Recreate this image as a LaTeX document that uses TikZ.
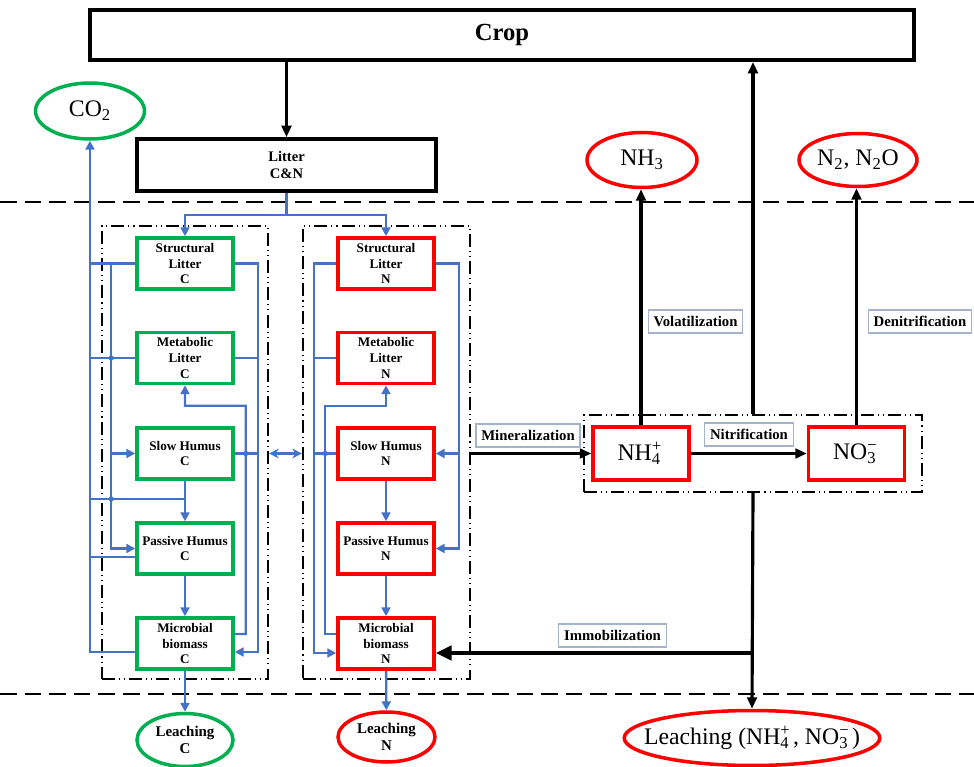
\documentclass[tikz,border=0pt]{standalone}
\usepackage{fontspec}
\setmainfont{Liberation Serif}
\usetikzlibrary{shapes.geometric,arrows.meta,calc}
\definecolor{cblue}{RGB}{68,114,196}
\definecolor{cgreen}{RGB}{0,176,80}
\definecolor{cred}{RGB}{255,0,0}
\definecolor{tagline}{RGB}{165,178,204}
\newcommand\chemion[3]{#1\rlap{\textsuperscript{#3}}\textsubscript{#2}\hspace{0.15em}}
\tikzset{
	poolbox/.style={draw,line width=1.2pt,dash pattern=on 7.4pt off 2.3pt on 0.6pt off 2.3pt on 0.6pt off 2.3pt},
	cbox/.style={draw=cgreen,line width=2pt,minimum width=1.92cm,minimum height=1.02cm,inner sep=0pt,align=center,font=\fontsize{7.5}{9}\selectfont\bfseries},
	nbox/.style={cbox,draw=cred},
	gas/.style={ellipse,draw,line width=2pt,inner sep=0pt,font=\fontsize{13.5}{15}\selectfont},
	tag/.style={draw=tagline,line width=0.6pt,fill=white,inner xsep=3pt,inner ysep=0pt,minimum height=0.46cm,font=\fontsize{8.4}{10}\selectfont\bfseries},
	flow/.style={cblue,line width=1.35pt},
	flowto/.style={flow,-{Triangle[length=5pt,width=5pt]}},
	feed/.style={line width=1.8pt,-{Triangle[length=6.5pt,width=5.5pt]}},
	soil/.style={line width=1.5pt,dash pattern=on 9.5pt off 4.5pt}
}
\begin{document}
\begin{tikzpicture}[x=0.02cm,y=-0.02cm]
	\useasboundingbox (0,0) rectangle (974,767);

	\draw[soil] (0,202) -- (974,202);
	\draw[soil] (0,694) -- (974,694);

	\node[poolbox,minimum width=3.32cm,minimum height=9.06cm] (cpool) at (185,452.5) {};
	\node[poolbox,minimum width=3.34cm,minimum height=9.06cm] (npool) at (386.5,452.5) {};
	\node[poolbox,minimum width=6.76cm,minimum height=1.54cm] (inorg) at (753,453.5) {};

	\node[draw,line width=2.2pt,minimum width=16.5cm,minimum height=1cm,font=\fontsize{14}{16}\selectfont\bfseries] (crop) at (502,35) {Crop};
	\node[draw,line width=2.1pt,minimum width=5.98cm,minimum height=1.04cm,align=center,font=\fontsize{8.3}{9.6}\selectfont\bfseries] (litter) at (286.5,165) {Litter\\C\&N};

	\node[gas,draw=cgreen,minimum width=2.18cm,minimum height=1.12cm] (co2) at (90,111) {CO\textsubscript{2}};
	\node[gas,draw=cred,minimum width=2.2cm,minimum height=1.1cm] (nhthree) at (642,160) {NH\textsubscript{3}};
	\node[gas,draw=cred,minimum width=2.36cm,minimum height=1.06cm] (ntwo) at (858,160) {N\textsubscript{2}, N\textsubscript{2}O};

	\node[cbox] (slc) at (185,263.5) {Structural\\Litter\\C};
	\node[cbox] (mlc) at (185,358) {Metabolic\\Litter\\C};
	\node[cbox] (shc) at (185,453.5) {Slow Humus\\C};
	\node[cbox] (phc) at (185,548.5) {Passive Humus\\C};
	\node[cbox] (mbc) at (185,643.5) {Microbial\\biomass\\C};

	\node[nbox] (sln) at (386,263.5) {Structural\\Litter\\N};
	\node[nbox] (mln) at (386,358) {Metabolic\\Litter\\N};
	\node[nbox] (shn) at (386,453.5) {Slow Humus\\N};
	\node[nbox] (phn) at (386,548.5) {Passive Humus\\N};
	\node[nbox] (mbn) at (386,643.5) {Microbial\\biomass\\N};

	\node[gas,draw=cgreen,minimum width=1.92cm,minimum height=1.06cm,align=center,font=\fontsize{8.5}{10}\selectfont\bfseries] (lc) at (185,740) {Leaching\\C};
	\node[gas,draw=cred,minimum width=1.94cm,minimum height=1cm,align=center,font=\fontsize{8.5}{10}\selectfont\bfseries] (ln) at (386.5,737) {Leaching\\N};

	\node[nbox,minimum height=1.06cm,font=\fontsize{13.5}{15}\selectfont] (nhfour) at (641,453.5) {\chemion{NH}{4}{+}};
	\node[nbox,minimum height=1.06cm,font=\fontsize{13.5}{15}\selectfont] (nothree) at (856.5,453.5) {\chemion{NO}{3}{−}};
	\node[gas,draw=cred,inner xsep=-10pt,minimum height=1.1cm] (leach) at (752,738) {Leaching (\chemion{NH}{4}{+}, \chemion{NO}{3}{−})};

	\draw[feed] (crop.south -| litter.north) -- (litter.north);
	\draw[feed] (inorg.north) -- (inorg.north |- crop.south);
	\draw[feed] (nhfour.north) -- (nhfour.north |- nhthree.south);
	\draw[feed] (nothree.north) -- (nothree.north |- ntwo.south);
	\draw[feed] (npool.east |- nhfour.west) -- (nhfour.west);
	\draw[feed] (nhfour) -- (nothree);
	\draw[feed] (inorg.south) -- (leach.north);
	\coordinate (imm) at ($(inorg.south |- mbn.east)+(0,9.5)$);
	\draw[line width=2.4pt,-{Triangle[length=9pt,width=8pt]}] (imm) -- (imm -| mbn.east);

	\draw[flowto] (litter.south) -- ++(0,22) coordinate (split) -| (slc.north);
	\draw[flowto] (split) -| (sln.north);

	\coordinate (ca) at ($(mbc.west)+(0,8.5)$);
	\coordinate (cb) at ($(phc.west)+(0,8.5)$);
	\coordinate (cc) at ($(shc.south)!0.45!(phc.north)$);
	\coordinate (cd) at ($(slc.west)+(-24,0)$);
	\coordinate (ce) at ($(slc.east)+(23,0)$);
	\coordinate (cf) at ($(mbc.east)+(0,8.5)$);
	\coordinate (cg) at ($(mbc.east)+(0,-9.5)$);
	\coordinate (ci) at ($(cg)+(11,0)$);
	\coordinate (ch) at ($(mlc.south)!0.5!(shc.north)$);
	\draw[flowto] (ca) -| (co2.south);
	\draw[flow] (slc.west) -- (slc.west -| co2.south);
	\draw[flow] (mlc.west) -- (mlc.west -| co2.south);
	\draw[flow] (cb) -- (cb -| co2.south);
	\draw[flow] (cc -| co2.south) -- (cc);
	\draw[flowto] (cd) |- (shc.west);
	\draw[flowto] (cd) |- (phc.west);
	\draw[flowto] (slc.east) -- (ce) |- (cf);
	\draw[flow] (mlc.east) -- (mlc.east -| ce);
	\draw[flow] (shc.east) -- (shc.east -| ce);
	\draw[flowto] (cg) -- (ci) |- (ch) -- (mlc.south);
	\draw[flowto] (shc) -- (phc);
	\draw[flowto] (phc) -- (mbc);
	\draw[flowto] (mbc) -- (lc);
	\fill[cblue] (cd |- mlc.west) circle (1.5pt);
	\fill[cblue] (cd |- cc) circle (1.5pt);
	\fill[cblue] (ci |- shc.east) circle (1.5pt);

	\coordinate (na) at ($(sln.west)+(-22,0)$);
	\coordinate (nb) at ($(mbn.west)+(0,9.5)$);
	\coordinate (nc) at ($(mbn.west)+(0,-9.5)$);
	\coordinate (nd) at ($(nc)+(-11,0)$);
	\coordinate (ne) at ($(mln.south)!0.5!(shn.north)$);
	\coordinate (nf) at ($(sln.east)+(23,0)$);
	\draw[flowto] (sln.west) -- (na) |- (nb);
	\draw[flow] (mln.west) -- (mln.west -| na);
	\draw[flow] (shn.west) -- (shn.west -| na);
	\draw[flowto] (nc) -- (nd) |- (ne) -- (mln.south);
	\draw[flowto] (sln.east) -- (nf) |- (phn.east);
	\draw[flowto] (nf |- shn.east) -- (shn.east);
	\draw[flowto] (shn) -- (phn);
	\draw[flowto] (phn) -- (mbn);
	\draw[flowto] (mbn) -- (ln);
	\fill[cblue] (nd |- shn.west) circle (1.5pt);

	\draw[cblue,line width=2pt,{Stealth[length=5.5pt,width=5.5pt]}-{Stealth[length=5.5pt,width=5.5pt]}] (cpool.east |- shc) -- (npool.west |- shc);

	\node[tag] (lvol) at (695.5,321.5) {Volatilization};
	\node[tag] (lden) at (920,321.5) {Denitrification};
	\node[tag] (lnit) at (749,434.5) {Nitrification};
	\node[tag] (lmin) at (528,435.5) {Mineralization};
	\node[tag] (limm) at (612.5,635.5) {Immobilization};
\end{tikzpicture}
\end{document}
